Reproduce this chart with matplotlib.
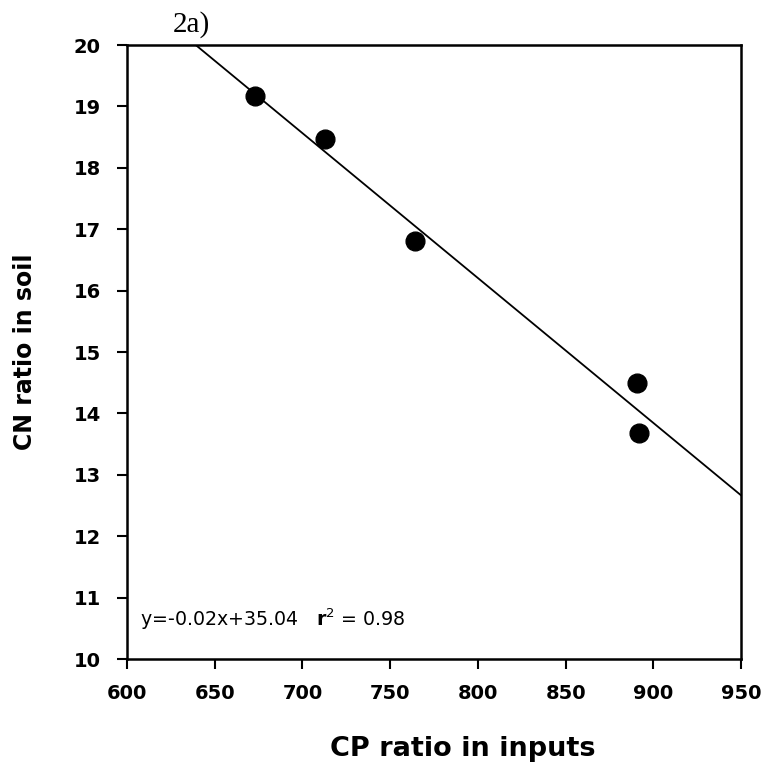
import numpy as np
import matplotlib
matplotlib.use('Agg')
import matplotlib.pyplot as plt

# data
cp_ratio = [673, 713, 764, 890.7, 891.8]
cn_ratio = [19.17, 18.47, 16.81, 14.49, 13.68]
xticks = [600, 650, 700, 750, 800, 850, 900, 950]
yticks = [10, 11, 12, 13, 14, 15, 16, 17, 18, 19, 20]

plt.rcParams['font.family'] = ['DejaVu Sans']

fig = plt.figure(figsize=(7.63, 7.68), dpi=100)
ax = fig.add_axes([0.1664, 0.1419, 0.8048, 0.7995])

# regression line
slope, intercept = np.polyfit(cp_ratio, cn_ratio, 1)
xl = np.array([600, 950])
ax.plot(xl, slope * xl + intercept, color='black', lw=1.3, zorder=2)

ax.plot(cp_ratio, cn_ratio, 'o', color='black', markersize=13.5, zorder=3)

ax.set_xlim(600, 950)
ax.set_ylim(10, 20)
ax.set_xticks(xticks)
ax.set_yticks(yticks)
ax.tick_params(direction='out', length=7, width=1.5, labelsize=14)
ax.tick_params(axis='x', pad=11)
ax.tick_params(axis='y', pad=12)
for lab in ax.get_xticklabels() + ax.get_yticklabels():
    lab.set_fontweight('bold')
for sp in ax.spines.values():
    sp.set_linewidth(1.8)

ax.set_xlabel('CP ratio in inputs', fontsize=19.5, fontweight='bold')
ax.xaxis.set_label_coords(0.547, -0.126)
ax.set_ylabel('CN ratio in soil', fontsize=17, fontweight='bold', labelpad=26)

ax.text(0.021, 0.064, 'y=-0.02x+35.04   $\\mathbf{r}^2$ = 0.98', transform=ax.transAxes,
        fontsize=13.7, va='center', ha='left')
fig.text(0.226, 0.968, '2a)', family=['Liberation Serif'], fontsize=21,
         ha='left', va='center')

fig.savefig('out.png', dpi=100)
